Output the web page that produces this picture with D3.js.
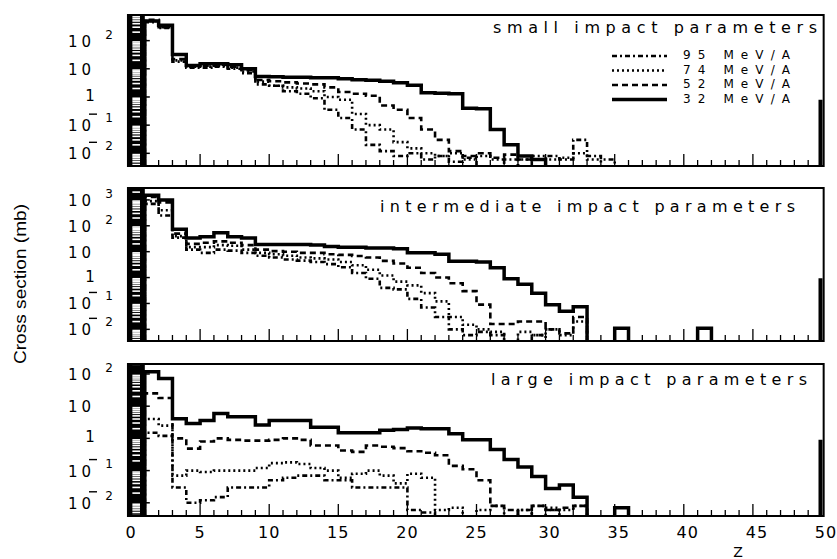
<!DOCTYPE html>
<html><head><meta charset="utf-8">
<script src="https://cdn.jsdelivr.net/npm/d3@7"></script>
<style>body{margin:0;background:#fff} svg{display:block}</style>
</head><body>
<svg id="c" width="837" height="559"></svg>
<script>
// ---- data (bin z .. z+1) ----
const zBins = [1,2,3,4,5,6,7,8,9,10,11,12,13,14,15,16,17,18,19,20,21,22,23,24,25,26,27,28,29,30,31,32,33,34,35,36,37,38,39,40,41,42];

// small impact parameters
const e32Small = [500,350,32,13,15,15,14,10,5.3,5.2, 5,5,4.8,4.8,4.4,4.1,3.9,3.6,3.2,2.6, 1.4,1.35,1.3,0.4,0.38,0.07,0.02,0.008,0.006,0, 0,0,0,0,0,0,0,0,0,0, 0,0];
const e52Small = [550,300,22,13,13,14,12,9,4,3.6, 3.3,3,2.8,2.2,1.5,1.3,1.1,0.5,0.35,0.18, 0.07,0.03,0.012,0.008,0.01,0.007,0.009,0.006,0.006,0, 0,0,0,0,0,0,0,0,0,0, 0,0];
const e74Small = [500,300,20,12,12,13,11,8,3.5,2.5, 2.2,2,1.6,1,0.8,0.25,0.1,0.07,0.025,0.015, 0.01,0.008,0.01,0.006,0.008,0.006,0,0.006,0.008,0.006, 0.007,0.01,0.006,0,0,0,0,0,0,0, 0,0];
const e95Small = [450,280,18,11,11,12,10,7,2.8,2.5, 1.6,1.3,0.9,0.35,0.18,0.07,0.02,0.012,0.008,0.01, 0.006,0.008,0.005,0.007,0,0,0.006,0,0.006,0.008, 0.006,0.03,0.008,0.006,0,0,0,0,0,0, 0,0];

// intermediate impact parameters
const e32Mid = [1500,1000,73,34,38,54,38,34,19,19, 19,19,18,16,15,15,14,14,13,9, 9,8,4.3,4.3,4,2.4,0.9,0.55,0.25,0.09, 0.05,0.075,0,0,0.011,0,0,0,0,0, 0.011,0];
const e52Mid = [1300,800,50,20,22,25,22,18,12,10.5, 10,9,9,8,7.5,6.8,6,4.4,3.5,2.4, 1.5,1.0,0.6,0.3,0.09,0.016,0.016,0.02,0.02,0.01, 0.007,0.03,0,0,0,0,0,0,0,0, 0,0];
const e74Mid = [900,400,40,15,15,18,17,12,9,8, 7,6,5.5,5,4,3,2,1.2,0.7,0.5, 0.25,0.12,0.03,0.015,0.01,0.008,0,0.008,0.006,0.01, 0.006,0.02,0,0,0,0,0,0,0,0, 0,0];
const e95Mid = [700,250,35,12,9,12,11,9,7,6, 5,4.5,4,3.3,2.5,1.5,0.9,0.4,0.35,0.15, 0.07,0.03,0.01,0.006,0.008,0.006,0,0,0.006,0, 0,0,0,0,0,0,0,0,0,0, 0,0];

// large impact parameters
const e32Large = [117,72,4.1,2.9,3.6,5.9,4.7,4.7,2.6,3.6, 3.6,3.6,2.2,2.2,1.5,1.5,1.5,1.8,1.9,2.1, 2.0,2.0,1.4,0.9,0.9,0.45,0.22,0.13,0.065,0.028, 0.036,0.015,0,0,0.007,0,0,0,0,0, 0,0];
const e52Large = [25,18,1.0,0.48,0.8,1.0,0.9,0.85,0.85,0.9, 1.0,0.9,0.6,0.6,0.42,0.38,0.6,0.55,0.5,0.4, 0.36,0.3,0.14,0.11,0.05,0.008,0.006,0,0.008,0.006, 0.007,0.008,0,0,0,0,0,0,0,0, 0,0];
const e74Large = [4,2.5,0.07,0.1,0.09,0.1,0.1,0.1,0.12,0.17, 0.18,0.16,0.12,0.1,0.06,0.08,0.1,0.07,0.04,0.08, 0.06,0.006,0.007,0,0.006,0.008,0,0.006,0.008,0.007, 0.006,0.008,0,0,0,0,0,0,0,0, 0,0];
const e95Large = [1.5,1.2,0.03,0.01,0.012,0.015,0.03,0.03,0.03,0.05, 0.06,0.07,0.07,0.05,0.05,0.03,0.03,0.03,0.03,0.006, 0.005,0,0,0,0,0,0,0.006,0,0.006, 0,0,0,0,0,0,0,0,0,0, 0,0];

const spikeZ = 50;
const spikeValues = [0.8, 0.95, 0.9];
const panelTitles = ["small impact parameters","intermediate impact parameters","large impact parameters"];
const legendLabels = ["95 MeV/A","74 MeV/A","52 MeV/A","32 MeV/A"];
const xTickValues = [0,5,10,15,20,25,30,35,40,45,50];
const yTitle = "Cross section (mb)";
const xTitle = "Z";

// ---- layout ----
const svg = d3.select("#c");
const x = d3.scaleLinear().domain([0,50]).range([131,822]);
const frameL = x(-0.22), frameR = x(50.12);

const layouts = [
  {top:15, bottom:166, lo:-2.45, hi:2.91, titleX:[493,817], titleY:33},
  {top:188, bottom:341, lo:-2.45, hi:3.46, titleX:[380,795], titleY:212},
  {top:364, bottom:516, lo:-2.41, hi:2.31, titleX:[491,807], titleY:385}
];
const panelSeries = [
  [e95Small,e74Small,e52Small,e32Small],
  [e95Mid,e74Mid,e52Mid,e32Mid],
  [e95Large,e74Large,e52Large,e32Large]
];
const styles = [
  {dash:"5,3,2,3", w:2.6},
  {dash:"2,3", w:2.6},
  {dash:"6,4", w:2.6},
  {dash:null, w:3.5}
];

const FONT = "'DejaVu Sans', sans-serif";

layouts.forEach((L, pi) => {
  const y = d3.scaleLog().domain([Math.pow(10,L.lo), Math.pow(10,L.hi)]).range([L.bottom, L.top]);
  const vmin = Math.pow(10, L.lo);
  const g = svg.append("g");
  const clipId = "clip"+pi;
  svg.append("clipPath").attr("id", clipId).append("rect")
    .attr("x", frameL).attr("y", L.top).attr("width", frameR-frameL).attr("height", L.bottom-L.top);

  // left black band (z 0..1)
  g.append("rect").attr("x", frameL).attr("y", L.top).attr("width", x(1)-frameL).attr("height", L.bottom-L.top).attr("fill","#000");
  for (let d = Math.floor(L.lo); d <= Math.ceil(L.hi); d++) {
    for (let m = 2; m <= 9; m++) {
      const v = m*Math.pow(10,d);
      if (v <= vmin || v >= Math.pow(10,L.hi)) continue;
      g.append("line").attr("x1", x(0.1)).attr("x2", x(0.65)).attr("y1", y(v)).attr("y2", y(v))
        .attr("stroke","#fff").attr("stroke-width",1.6);
    }
  }

  // histograms
  const line = d3.line().x(d=>x(d[0])).y(d=>y(d[1]));
  const hg = g.append("g").attr("clip-path", `url(#${clipId})`);
  panelSeries[pi].forEach((vals, si) => {
    const pts = [[zBins[0], vmin]];
    vals.forEach((v,i) => {
      const vv = Math.max(v, vmin*0.9);
      pts.push([zBins[i], vv], [zBins[i]+1, vv]);
    });
    pts.push([zBins[zBins.length-1]+1, vmin*0.9]);
    const p = hg.append("path").attr("d", line(pts)).attr("fill","none").attr("stroke","#000")
      .attr("stroke-width", styles[si].w).attr("stroke-linejoin","miter");
    if (styles[si].dash) p.attr("stroke-dasharray", styles[si].dash);
  });
  // spike at z=50
  hg.append("line").attr("x1", x(spikeZ)-1.5).attr("x2", x(spikeZ)-1.5)
    .attr("y1", L.bottom).attr("y2", y(spikeValues[pi])).attr("stroke","#000").attr("stroke-width",4);

  // frame
  g.append("rect").attr("x", frameL).attr("y", L.top).attr("width", frameR-frameL).attr("height", L.bottom-L.top)
    .attr("fill","none").attr("stroke","#000").attr("stroke-width",2);

  // x ticks
  for (let z = 1; z < 50; z++) {
    const len = (z%5===0) ? 12 : 6;
    g.append("line").attr("x1", x(z)).attr("x2", x(z)).attr("y1", L.bottom).attr("y2", L.bottom-len)
      .attr("stroke","#000").attr("stroke-width",1.3);
  }
  // y ticks and labels
  for (let d = Math.ceil(L.lo); d <= Math.floor(L.hi); d++) {
    const v = Math.pow(10,d), yy = y(v);
    g.append("line").attr("x1", x(1)).attr("x2", x(1)+5).attr("y1", yy).attr("y2", yy)
      .attr("stroke","#000").attr("stroke-width",1.5);
    if (d === 0) {
      g.append("text").attr("x", 90).attr("y", yy+4).attr("text-anchor","middle")
        .attr("font-family",FONT).attr("font-size",15).text("1");
    } else {
      g.append("text").attr("x", 68).attr("y", yy+6).attr("font-family",FONT).attr("font-size",15)
        .attr("letter-spacing",4).text("10");
      if (d >= 2) {
        g.append("text").attr("x", 109).attr("y", yy-2).attr("text-anchor","middle")
          .attr("font-family",FONT).attr("font-size",12).text(String(d));
      } else if (d < 0) {
        g.append("line").attr("x1", 89).attr("x2", 97).attr("y1", yy-11).attr("y2", yy-11)
          .attr("stroke","#000").attr("stroke-width",1.4);
        g.append("text").attr("x", 109).attr("y", yy-3).attr("text-anchor","middle")
          .attr("font-family",FONT).attr("font-size",12).text(String(-d));
      }
    }
  }

  // title
  g.append("text").attr("x", L.titleX[0]).attr("y", L.titleY).attr("font-family",FONT).attr("font-size",16)
    .attr("textLength", L.titleX[1]-L.titleX[0]).attr("lengthAdjust","spacing").text(panelTitles[pi]);

  // x tick labels on bottom panel
  if (pi === 2) {
    xTickValues.forEach(v => {
      g.append("text").attr("x", x(v) + (v>=30?4:0)).attr("y", 538).attr("text-anchor","middle")
        .attr("font-family",FONT).attr("font-size",16).attr("letter-spacing",1).text(String(v));
    });
  }
});

// legend (top panel)
const legRows = [54,68.5,83,97.5];
legendLabels.forEach((lab,i) => {
  const l = svg.append("line").attr("x1",612).attr("x2",667).attr("y1",legRows[i]+2).attr("y2",legRows[i]+2)
    .attr("stroke","#000").attr("stroke-width",styles[i].w);
  if (styles[i].dash) l.attr("stroke-dasharray", styles[i].dash);
  svg.append("text").attr("x",683).attr("y",legRows[i]+5).attr("font-family",FONT).attr("font-size",12)
    .attr("textLength",107).attr("lengthAdjust","spacing").text(lab);
});

// axis titles
svg.append("text").attr("transform","translate(26,284) rotate(-90)").attr("text-anchor","middle")
  .attr("font-family","'Liberation Sans Narrow','Liberation Sans',sans-serif").attr("font-size",16)
  .attr("textLength",160).attr("lengthAdjust","spacingAndGlyphs").text(yTitle);
svg.append("text").attr("x",738).attr("y",557).attr("text-anchor","middle")
  .attr("font-family",FONT).attr("font-size",14).text(xTitle);
</script>
</body></html>
